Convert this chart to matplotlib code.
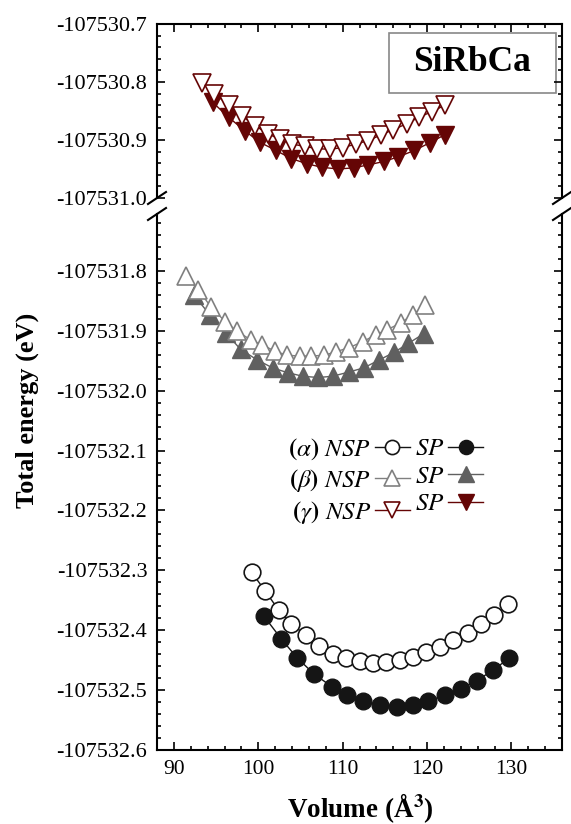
import matplotlib.pyplot as plt
from matplotlib.patches import Rectangle
from matplotlib.ticker import MultipleLocator, FormatStrFormatter

plt.rcParams['font.family'] = ['Liberation Serif', 'DejaVu Serif']
plt.rcParams['mathtext.fontset'] = 'stix'
plt.rcParams['axes.unicode_minus'] = False

# alpha phase (bottom of lower panel)
vol_a_nsp = [99.2, 100.8, 102.4, 103.9, 105.6, 107.2, 108.9, 110.4, 112.0, 113.6,
             115.1, 116.8, 118.3, 119.9, 121.5, 123.1, 124.8, 126.4, 127.9, 129.6]
e_a_nsp = [-107532.303, -107532.334, -107532.366, -107532.389, -107532.408,
           -107532.427, -107532.439, -107532.446, -107532.451, -107532.454,
           -107532.453, -107532.450, -107532.444, -107532.437, -107532.428,
           -107532.417, -107532.404, -107532.390, -107532.375, -107532.357]
vol_a_sp = [100.7, 102.7, 104.6, 106.6, 108.7, 110.5, 112.4, 114.4,
            116.4, 118.3, 120.1, 122.1, 124.0, 125.9, 127.8, 129.7]
e_a_sp = [-107532.377, -107532.414, -107532.446, -107532.473, -107532.494,
          -107532.508, -107532.519, -107532.525, -107532.528, -107532.525,
          -107532.519, -107532.508, -107532.498, -107532.484, -107532.467,
          -107532.447]

# beta phase
vol_b_nsp = [91.4, 92.9, 94.4, 96.1, 97.5, 99.1, 100.5, 102.0, 103.4, 104.9,
             106.3, 107.8, 109.2, 110.8, 112.4, 113.9, 115.3, 116.9, 118.3, 119.8]
e_b_nsp = [-107531.808, -107531.832, -107531.860, -107531.885, -107531.901,
           -107531.915, -107531.924, -107531.934, -107531.941, -107531.942,
           -107531.942, -107531.941, -107531.935, -107531.928, -107531.918,
           -107531.907, -107531.898, -107531.887, -107531.873, -107531.857]
vol_b_sp = [92.4, 94.3, 96.2, 97.9, 99.8, 101.7, 103.5, 105.3,
            107.1, 108.8, 110.7, 112.5, 114.3, 116.1, 117.8, 119.6]
e_b_sp = [-107531.841, -107531.874, -107531.904, -107531.931, -107531.948,
          -107531.962, -107531.970, -107531.976, -107531.978, -107531.976,
          -107531.969, -107531.962, -107531.949, -107531.936, -107531.921,
          -107531.905]

# gamma phase (upper panel)
vol_g_nsp = [93.3, 94.8, 96.5, 98.1, 99.6, 101.1, 102.6, 104.0, 105.5, 107.0,
             108.5, 110.0, 111.6, 113.0, 114.6, 116.0, 117.6, 119.0, 120.6, 122.1]
e_g_nsp = [-107530.801, -107530.820, -107530.840, -107530.859, -107530.875,
           -107530.889, -107530.899, -107530.907, -107530.911, -107530.915,
           -107530.916, -107530.913, -107530.907, -107530.901, -107530.891,
           -107530.882, -107530.872, -107530.861, -107530.851, -107530.840]
vol_g_sp = [94.6, 96.5, 98.4, 100.2, 102.1, 103.9, 105.8, 107.5,
            109.5, 111.3, 113.0, 114.9, 116.6, 118.5, 120.3, 122.1]
e_g_sp = [-107530.835, -107530.861, -107530.884, -107530.904, -107530.918,
          -107530.932, -107530.941, -107530.947, -107530.950, -107530.948,
          -107530.943, -107530.937, -107530.929, -107530.918, -107530.905,
          -107530.891]

xticks = [90, 100, 110, 120, 130]
c_g = '#650505'
c_b = '#606060'
c_b_open = '#808080'
c_a = '#151515'

W, H = 571, 824
fig = plt.figure(figsize=(W / 100, H / 100), dpi=100)
L, R = 157, 562
ax_top = fig.add_axes([L / W, 1 - 198 / H, (R - L) / W, (198 - 24) / H])
ax_bot = fig.add_axes([L / W, 1 - 750 / H, (R - L) / W, (750 - 214) / H])

for ax in (ax_top, ax_bot):
    ax.set_xlim(88, 136)
    ax.xaxis.set_major_locator(MultipleLocator(10))
    ax.xaxis.set_minor_locator(MultipleLocator(2))
    ax.yaxis.set_major_locator(MultipleLocator(0.1))
    ax.yaxis.set_minor_locator(MultipleLocator(0.02))
    ax.yaxis.set_major_formatter(FormatStrFormatter('%.1f'))
    ax.tick_params(which='both', direction='in', left=True, right=True,
                   width=1.2, pad=7)
    ax.tick_params(axis='y', labelsize=16)
    ax.tick_params(axis='x', labelsize=15.5)
    ax.tick_params(which='major', length=5.5)
    ax.tick_params(which='minor', length=3)
    for sp in ax.spines.values():
        sp.set_linewidth(1.5)

ax_top.set_ylim(-107531.0, -107530.7)
ax_bot.set_ylim(-107532.6, -107531.705)
ax_top.spines['bottom'].set_visible(False)
ax_bot.spines['top'].set_visible(False)
ax_top.tick_params(axis='x', which='both', top=True, bottom=False,
                   labeltop=False, labelbottom=False)
ax_bot.tick_params(axis='x', which='both', top=False, bottom=True)
ax_bot.set_xticks(xticks)

# break marks
dx = 9 / (R - L)
for ax, hpx, yv in ((ax_top, 174, 0), (ax_bot, 536, 1)):
    dy = 6 / hpx
    for xv in (0, 1):
        ax.plot([xv - dx, xv + dx], [yv - dy, yv + dy], transform=ax.transAxes,
                color='k', lw=1.5, clip_on=False)

ms_c, ms_t = 12, 13.5
la_sp, = ax_bot.plot(vol_a_sp, e_a_sp, '-o', color=c_a, lw=1, ms=ms_c,
                     mfc=c_a, mec=c_a, mew=1)
la_nsp, = ax_bot.plot(vol_a_nsp, e_a_nsp, '-o', color=c_a, lw=1, ms=ms_c,
                      mfc='white', mec=c_a, mew=1.2)
lb_sp, = ax_bot.plot(vol_b_sp, e_b_sp, '-^', color=c_b, lw=1, ms=ms_t,
                     mfc=c_b, mec=c_b, mew=1)
lb_nsp, = ax_bot.plot(vol_b_nsp, e_b_nsp, '-^', color=c_b_open, lw=1, ms=ms_t,
                      mfc='white', mec=c_b_open, mew=1.2)
lg_sp, = ax_top.plot(vol_g_sp, e_g_sp, '-v', color=c_g, lw=1, ms=ms_t,
                     mfc=c_g, mec=c_g, mew=1)
lg_nsp, = ax_top.plot(vol_g_nsp, e_g_nsp, '-v', color=c_g, lw=1, ms=ms_t,
                      mfc='white', mec=c_g, mew=1.2)

# label box
ax_top.add_patch(Rectangle((0.573, 0.603), 0.412, 0.345, transform=ax_top.transAxes,
                           fill=False, ec='#888888', lw=1.2))
ax_top.text(0.779, 0.776, 'SiRbCa', transform=ax_top.transAxes, ha='center',
            va='center', fontsize=25.5, fontweight='bold')

labels = [r'$\mathbf{(}\alpha\mathbf{)}$ $\mathit{NSP}$',
          r'$\mathbf{(}\beta\mathbf{)}$ $\mathit{NSP}$',
          r'$\mathbf{(}\gamma\mathbf{)}$ $\mathit{NSP}$',
          r'$\mathit{SP}$', r'$\mathit{SP}$', r'$\mathit{SP}$']
ax_bot.legend([la_nsp, lb_nsp, lg_nsp, la_sp, lb_sp, lg_sp], labels, ncol=2,
              markerfirst=False, frameon=False, fontsize=18, markerscale=0.85,
              handlelength=1.4, handletextpad=0.15, columnspacing=0.2,
              labelspacing=0.2, borderpad=0, borderaxespad=0,
              loc='upper left', bbox_to_anchor=(288 / W, 1 - 436 / H),
              bbox_transform=fig.transFigure)

fig.text(27 / W, 1 - 410 / H, 'Total energy (eV)', rotation=90, ha='center',
         va='center', fontsize=19, fontweight='bold')
fig.text(360 / W, 1 - 808 / H, 'Volume (Å$^\\mathbf{3}$)', ha='center',
         va='center', fontsize=19.5, fontweight='bold')

fig.savefig('out.png', dpi=100)
